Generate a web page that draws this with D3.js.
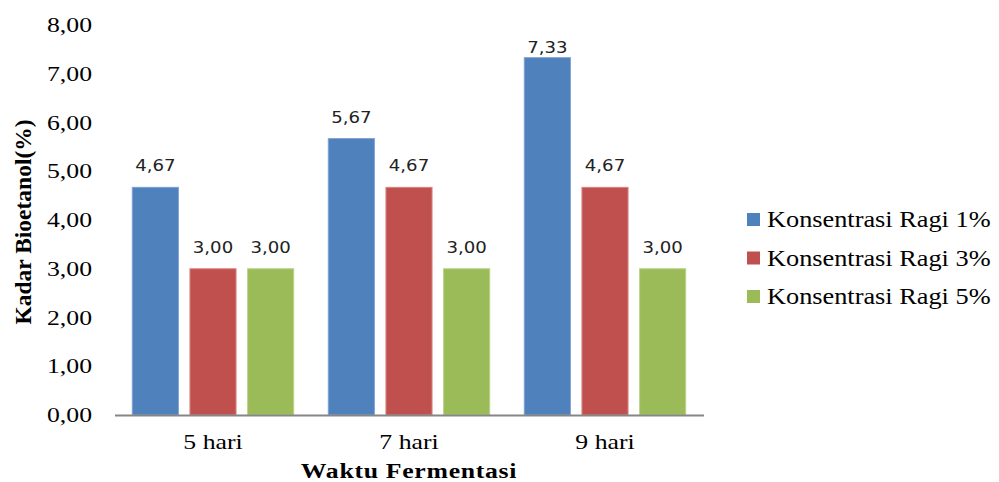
<!DOCTYPE html>
<html>
<head>
<meta charset="utf-8">
<script src="https://cdn.jsdelivr.net/npm/d3@7"></script>
<style>
  body { margin: 0; background: #fff; }
  svg { display: block; }
</style>
</head>
<body>
<script>
'use strict';

// chart data
const categories = ["5 hari", "7 hari", "9 hari"];
const seriesNames = ["Konsentrasi Ragi 1%", "Konsentrasi Ragi 3%", "Konsentrasi Ragi 5%"];
const ragi1 = [4.67, 5.67, 7.33];
const ragi3 = [3.00, 4.67, 4.67];
const ragi5 = [3.00, 3.00, 3.00];
const yTicks = [0, 1, 2, 3, 4, 5, 6, 7, 8];
const colors = ["#4F81BD", "#C0504D", "#9BBB59"];
const edges = ["#7EA3D3", "#D98583", "#B9D486"];

const series = [ragi1, ragi3, ragi5];
const fmt = v => v.toFixed(2).replace(".", ",");
const serif = "'Liberation Serif', 'Times New Roman', serif";
const sans = "'DejaVu Sans', Verdana, sans-serif";
const stretch = 1.17; // the picture is a bit wider than tall

let svg = d3.select("body").append("svg")
  .attr("width", 999)
  .attr("height", 482);

// put a horizontally stretched text at x,y
function label(x, y, str, opts) {
  return svg.append("text")
    .attr("transform", "translate(" + x + "," + y + ") scale(" + (opts.sx || stretch) + ",1)")
    .attr("text-anchor", opts.anchor || "middle")
    .style("font-family", opts.font || serif)
    .style("font-size", (opts.size || 22) + "px")
    .style("font-weight", opts.bold ? "bold" : "normal")
    .style("letter-spacing", opts.ls || 0)
    .attr("fill", opts.color || "#000")
    .text(str);
}

// scales
let x0 = d3.scaleBand().domain(categories).range([115, 703]);
let x1 = d3.scaleBand().domain(d3.range(series.length))
  .range([0, x0.bandwidth()]).paddingInner(0.2).paddingOuter(0.3);
let y = d3.scaleLinear().domain([0, 8]).range([415, 25]);

// y tick labels
yTicks.forEach(function(t) {
  label(92, y(t) + 7, fmt(t), { anchor: "end" });
});

// bars
series.forEach(function(vals, s) {
  svg.append("g").selectAll("rect")
    .data(vals)
    .enter()
    .append("rect")
      .attr("x", (d, i) => x0(categories[i]) + x1(s))
      .attr("y", d => y(d))
      .attr("width", x1.bandwidth())
      .attr("height", d => y(0) - y(d))
      .attr("fill", colors[s])
      .attr("stroke", edges[s])
      .attr("stroke-width", 1);

  // value labels over the bars
  vals.forEach(function(d, i) {
    let cx = x0(categories[i]) + x1(s) + x1.bandwidth() / 2;
    let ly = Math.max(y(d) - 16, 53);
    label(cx, ly, fmt(d), { font: sans, size: 15.5, color: "#222" });
  });
});

// x axis line
svg.append("line")
  .attr("x1", 115).attr("x2", 704)
  .attr("y1", y(0) + 0.5).attr("y2", y(0) + 0.5)
  .attr("stroke", "#868686")
  .attr("stroke-width", 2);

// category labels
categories.forEach(function(c) {
  label(x0(c) + x0.bandwidth() / 2, 449, c, {});
});

// axis titles
label(409, 478, "Waktu Fermentasi", { bold: true, size: 22, ls: "0.6px" });

svg.append("text")
  .attr("transform", "translate(31,222) rotate(-90)")
  .attr("text-anchor", "middle")
  .style("font-family", serif)
  .style("font-size", "23.5px")
  .style("font-weight", "bold")
  .text("Kadar Bioetanol(%)");

// legend
seriesNames.forEach(function(name, i) {
  let ly = 219.5 + i * 38.5;
  svg.append("rect")
    .attr("x", 747).attr("y", ly - 6.5)
    .attr("width", 13).attr("height", 13)
    .attr("fill", colors[i]);
  label(767, ly + 7.5, name, { anchor: "start", size: 22.5 });
});
</script>
</body>
</html>
